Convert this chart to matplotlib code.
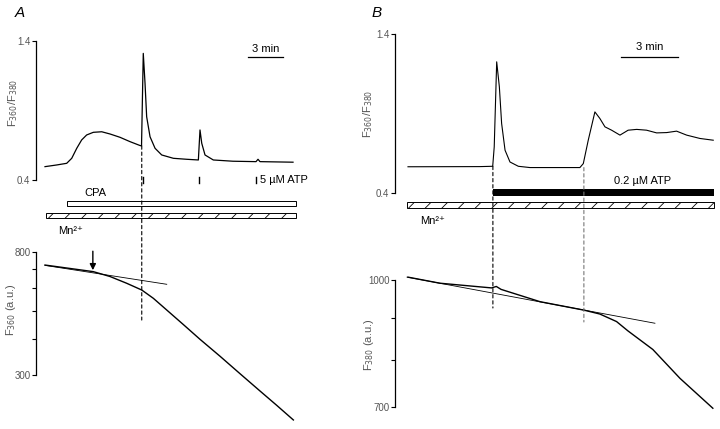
import matplotlib
matplotlib.use("Agg")
import matplotlib.pyplot as plt
from matplotlib.patches import Rectangle, ConnectionPatch

plt.rcParams['font.family'] = ['Liberation Sans', 'DejaVu Sans']
plt.rcParams['hatch.linewidth'] = 0.6

# ---- panel A, ratio trace (time in min) ----
a_ratio_t = [0, 1.0, 1.86, 2.29, 2.72, 3.14, 3.57, 4.14, 4.86, 5.57, 6.43, 7.28, 8.14,
             8.27, 8.42, 8.57, 8.71, 9.0, 9.43, 10.0, 11.0, 12.14, 13.14, 13.28, 13.43,
             13.71, 14.42, 16.1, 18.08, 18.25, 18.42, 21.25]
a_ratio = [0.496, 0.508, 0.52, 0.556, 0.628, 0.688, 0.724, 0.743, 0.747, 0.731, 0.707,
           0.676, 0.648, 0.645, 1.311, 1.096, 0.855, 0.711, 0.628, 0.58, 0.556, 0.549,
           0.544, 0.76, 0.664, 0.58, 0.544, 0.535, 0.532, 0.549, 0.532, 0.528]
# ---- panel A, F360 quench trace ----
a_f_t = [0, 4.14, 5.57, 7.0, 8.29, 9.28, 10.43, 11.85, 13.28, 15.0, 16.71, 18.42,
         19.85, 21.28]
a_f = [721, 684, 658, 623.4, 590.8, 553.1, 503.7, 448.7, 398.8, 348.3, 303.1, 264.1,
       235.6, 209.6]
a_fit_t = [0, 10.43]
a_fit = [719, 618.4]
a_atp_t = [8.4, 13.2, 18.1]
a_cpa = [1.86, 21.5]
a_mn = [0.09, 21.5]
a_dash_t = 8.29

# ---- panel B ----
b_ratio_t = [0, 3.79, 4.46, 4.54, 4.67, 4.81, 4.93, 5.11, 5.37, 5.81, 6.42, 9.05, 9.23,
             9.49, 9.84, 10.1, 10.37, 10.72, 11.16, 11.59, 12.04, 12.56, 13.09, 13.62,
             14.14, 14.67, 15.37, 16.07]
b_ratio = [0.565, 0.566, 0.568, 0.69, 1.225, 1.068, 0.837, 0.669, 0.595, 0.568, 0.56,
           0.56, 0.585, 0.732, 0.91, 0.869, 0.816, 0.795, 0.764, 0.795, 0.80, 0.795,
           0.778, 0.78, 0.789, 0.764, 0.743, 0.732]
b_f_t = [0, 1.68, 4.4, 4.65, 4.9, 6.95, 9.26, 10.1, 10.98, 11.58, 12.89, 14.32, 16.05]
b_f = [1008, 991, 978, 982, 974, 941, 919, 909, 890, 867, 823, 759, 698]
b_fit_t = [-0.05, 13.0]
b_fit = [1008, 885.8]
b_atp = [4.47, 16.1]
b_mn = [-0.05, 16.1]
b_dash_t = [4.47, 9.26]

gray = '#555555'
fs = 7
fs2 = 8

fig = plt.figure(figsize=(7.2, 4.29), dpi=100)


def style(ax, bounds, ticks, labels):
    for s in ['top', 'right', 'bottom']:
        ax.spines[s].set_visible(False)
    ax.spines['left'].set_bounds(*bounds)
    ax.spines['left'].set_linewidth(0.9)
    ax.set_xticks([])
    ax.set_yticks(ticks)
    ax.set_yticklabels(labels)
    ax.minorticks_off()
    ax.tick_params(axis='y', length=3, width=0.8, labelsize=fs, labelcolor=gray, pad=1)
    ax.patch.set_visible(False)


# ---------- A top ----------
axA = fig.add_axes([0.05, 0.4499, 0.3667, 0.4615])
axA.set_xlim(-0.771, 21.85)
axA.set_ylim(-0.003, 1.4216)
axA.plot(a_ratio_t, a_ratio, color='black', lw=0.9)
style(axA, (0.4, 1.4), [0.4, 1.4], ['0.4', '1.4'])
axA.set_ylabel('F$_{360}$/F$_{380}$', fontsize=fs2, color=gray)
axA.yaxis.set_label_coords(-0.06, 0.672)
for t in a_atp_t:
    axA.plot([t, t], [0.378, 0.422], color='black', lw=1.0)
axA.text(a_atp_t[2] + 0.35, 0.4, '5 µM ATP', fontsize=fs2, va='center', color='black')
axA.add_patch(Rectangle((a_cpa[0], 0.213), a_cpa[1] - a_cpa[0], 0.036,
                        facecolor='white', edgecolor='black', lw=0.7))
axA.text(4.3, 0.306, 'CPA', fontsize=fs2, ha='center', va='center')
axA.add_patch(Rectangle((a_mn[0], 0.127), a_mn[1] - a_mn[0], 0.036,
                        facecolor='white', edgecolor='black', lw=0.7, hatch='//'))
axA.text(1.1, 0.03, 'Mn²⁺', fontsize=fs2, va='center')
axA.plot([17.4, 20.4], [1.283, 1.283], color='black', lw=0.9)
axA.text(18.9, 1.342, '3 min', fontsize=fs2, ha='center', va='center')

# ---------- A bottom ----------
axA2 = fig.add_axes([0.05, 0.00233, 0.3667, 0.4266])
axA2.set_yscale('log')
axA2.set_xlim(-0.771, 21.85)
axA2.set_ylim(196.6, 846)
axA2.plot(a_f_t, a_f, color='black', lw=1.0)
axA2.plot(a_fit_t, a_fit, color='black', lw=0.6)
style(axA2, (300, 800), [300, 400, 500, 600, 700, 800], ['300', '', '', '', '', '800'])
axA2.set_ylabel('F$_{360}$ (a.u.)', fontsize=fs2, color=gray)
axA2.yaxis.set_label_coords(-0.068, 0.645)
axA2.annotate('', xy=(4.1, 692), xytext=(4.1, 805),
              arrowprops=dict(arrowstyle='-|>', color='black', lw=1.0,
                              mutation_scale=9, shrinkA=0, shrinkB=0))

con = ConnectionPatch(xyA=(a_dash_t, 0.645), coordsA=axA.transData,
                      xyB=(a_dash_t, 465), coordsB=axA2.transData,
                      color='black', lw=0.8, ls=(0, (3, 2.5)))
fig.add_artist(con)

# ---------- B top ----------
axB = fig.add_axes([0.5486, 0.4499, 0.4486, 0.4802])
axB.set_xlim(-0.684, 16.32)
axB.set_ylim(0.1296, 1.4252)
axB.plot(b_ratio_t, b_ratio, color='black', lw=0.8)
style(axB, (0.4, 1.4), [0.4, 1.4], ['0.4', '1.4'])
axB.set_ylabel('F$_{360}$/F$_{380}$', fontsize=fs2, color=gray)
axB.yaxis.set_label_coords(-0.062, 0.592)
axB.add_patch(Rectangle((b_atp[0], 0.381), b_atp[1] - b_atp[0], 0.044,
                        facecolor='black', edgecolor='black', lw=0))
axB.text(12.37, 0.475, '0.2 µM ATP', fontsize=fs2, ha='center', va='center')
axB.add_patch(Rectangle((b_mn[0], 0.306), b_mn[1] - b_mn[0], 0.037,
                        facecolor='white', edgecolor='black', lw=0.7, hatch='//'))
axB.text(0.63, 0.224, 'Mn²⁺', fontsize=fs2, va='center')
axB.plot([11.2, 14.2], [1.253, 1.253], color='black', lw=0.9)
axB.text(12.7, 1.318, '3 min', fontsize=fs2, ha='center', va='center')

# ---------- B bottom ----------
axB2 = fig.add_axes([0.5486, 0.0326, 0.4486, 0.3497])
axB2.set_yscale('log')
axB2.set_xlim(-0.684, 16.32)
axB2.set_ylim(684.9, 1042.9)
axB2.plot(b_f_t, b_f, color='black', lw=1.0)
axB2.plot(b_fit_t, b_fit, color='black', lw=0.6)
style(axB2, (700, 1000), [700, 800, 900, 1000], ['700', '', '', '1000'])
axB2.set_ylabel('F$_{380}$ (a.u.)', fontsize=fs2, color=gray)
axB2.yaxis.set_label_coords(-0.059, 0.467)

for t, top, bot, c in [(b_dash_t[0], 0.568, 924.5, 'black'), (b_dash_t[1], 0.56, 889, '#777777')]:
    con = ConnectionPatch(xyA=(t, top), coordsA=axB.transData,
                          xyB=(t, bot), coordsB=axB2.transData,
                          color=c, lw=0.8, ls=(0, (3, 2.5)))
    fig.add_artist(con)

fig.text(15 / 720, 1 - 13 / 429, 'A', fontsize=11, style='italic', va='center')
fig.text(372 / 720, 1 - 13 / 429, 'B', fontsize=11, style='italic', va='center')

fig.savefig('out.png', dpi=100)
